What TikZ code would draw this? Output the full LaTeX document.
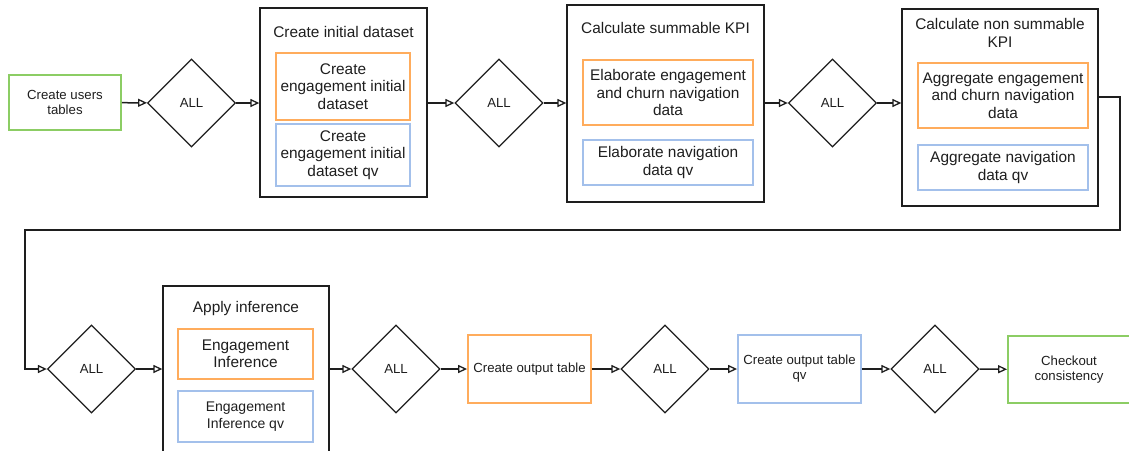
\documentclass[tikz,border=0pt]{standalone}
\usepackage{fontspec}
\setmainfont{Liberation Sans}
\usetikzlibrary{shapes.geometric,arrows.meta,calc}
\definecolor{okgreen}{RGB}{140,205,100}
\definecolor{taskorange}{RGB}{255,172,92}
\definecolor{taskblue}{RGB}{163,192,235}
\definecolor{ink}{RGB}{30,30,30}
\tikzset{
  bigtext/.style={font=\fontsize{15.4}{17.5}\selectfont},
  smalltext/.style={font=\fontsize{13.2}{15}\selectfont},
  group/.style={draw=ink, line width=1.3pt, rectangle, inner sep=0pt},
  task/.style={rectangle, line width=1.8pt, align=center, inner sep=0pt, text=ink},
  orangetask/.style={task, draw=taskorange, bigtext},
  bluetask/.style={task, draw=taskblue, bigtext},
  greentask/.style={task, draw=okgreen, smalltext},
  gate/.style={diamond, draw=ink, line width=1.3pt, inner sep=0pt,
    minimum width=88pt, minimum height=88pt, smalltext, text=ink},
  grouptitle/.style={align=center, bigtext, text=ink, inner sep=0pt},
  flow/.style={draw=ink, line width=1.5pt, -{Triangle[open, length=9pt, width=8pt, line width=1.3pt]}},
}
\begin{document}
\begin{tikzpicture}[x=1pt, y=-1pt]
  \useasboundingbox (0,0) rectangle (1129,450);
  \clip (0,0) rectangle (1129,450);

  % ---- first row ----
  \node[greentask, smalltext, minimum width=112pt, minimum height=55pt] (users) at (65,102.5) {Create users\\tables};
  \node[gate] (d1) at (191.5,103) {ALL};

  \node[group, minimum width=167pt, minimum height=189pt] (c1) at (343.5,102.5) {};
  \node[grouptitle] (c1t) at (343.5,32) {Create initial dataset};
  \node[orangetask, minimum width=134pt, minimum height=67pt] (o1) at (343,86.5) {Create\\engagement initial\\dataset};
  \node[bluetask, minimum width=134pt, minimum height=62pt] (b1) at (343,155) {Create\\engagement initial\\dataset qv};

  \node[gate] (d2) at (499,103) {ALL};

  \node[group, minimum width=197pt, minimum height=197pt] (c2) at (665.5,103.5) {};
  \node[grouptitle] (c2t) at (665.5,28) {Calculate summable KPI};
  \node[orangetask, minimum width=170pt, minimum height=65pt] (o2) at (668,92.5) {Elaborate engagement\\and churn navigation\\data};
  \node[bluetask, minimum width=170pt, minimum height=45pt] (b2) at (668,162.5) {Elaborate navigation\\data qv};

  \node[gate] (d3) at (832.5,103) {ALL};

  \node[group, minimum width=196pt, minimum height=197pt] (c3) at (1000,107.5) {};
  \node[grouptitle] (c3t) at (1000,33) {Calculate non summable\\KPI};
  \node[orangetask, minimum width=170pt, minimum height=65pt] (o3) at (1003,95.5) {Aggregate engagement\\and churn navigation\\data};
  \node[bluetask, minimum width=170pt, minimum height=45pt] (b3) at (1003,167.5) {Aggregate navigation\\data qv};

  % ---- second row ----
  \node[gate] (d4) at (91.5,369) {ALL};

  \node[group, minimum width=166pt, minimum height=166pt] (c4) at (246,369) {};
  \node[grouptitle] (c4t) at (246,309) {Apply inference};
  \node[orangetask, minimum width=135pt, minimum height=50pt] (o4) at (245.5,354) {Engagement\\Inference};
  \node[bluetask, font=\fontsize{14}{16.5}\selectfont, minimum width=135pt, minimum height=51pt] (b4) at (245.5,416.5) {Engagement\\Inference qv};

  \node[gate] (d5) at (396,369) {ALL};
  \node[task, draw=taskorange, smalltext, minimum width=123pt, minimum height=68pt] (out) at (529.5,369) {Create output table};
  \node[gate] (d6) at (665,369) {ALL};
  \node[task, draw=taskblue, smalltext, minimum width=123pt, minimum height=68pt] (outqv) at (799.5,369) {Create output table\\qv};
  \node[gate] (d7) at (935,369) {ALL};
  \node[greentask, minimum width=122pt, minimum height=67pt] (check) at (1069,369.5) {Checkout\\consistency};

  % ---- connectors ----
  \draw[flow] (users) -- (d1);
  \draw[flow] (d1) -- (c1.west |- d1);
  \draw[flow] (c1.east |- d2) -- (d2);
  \draw[flow] (d2) -- (c2.west |- d2);
  \draw[flow] (c2.east |- d3) -- (d3);
  \draw[flow] (d3) -- (c3.west |- d3);

  \coordinate (wrapA) at ($(c3.east)+(0,-10.5)$);
  \coordinate (wrapB) at (1120,230);
  \coordinate (wrapC) at (25,230);
  \draw[flow] (wrapA) -| (wrapB) -- (wrapC) |- (d4);

  \draw[flow] (d4) -- (c4.west |- d4);
  \draw[flow] (c4.east |- d5) -- (d5);
  \draw[flow] (d5) -- (out);
  \draw[flow] (out) -- (d6);
  \draw[flow] (d6) -- (outqv);
  \draw[flow] (outqv) -- (d7);
  \draw[flow] (d7) -- (check);
\end{tikzpicture}
\end{document}
